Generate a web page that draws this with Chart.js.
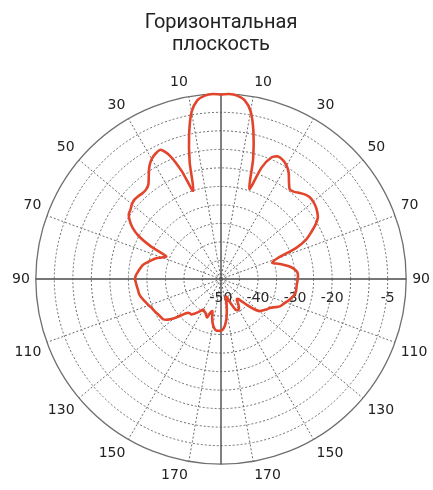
<!DOCTYPE html>
<html>
<head>
<meta charset="utf-8">
<script src="https://cdn.jsdelivr.net/npm/chart.js@4.4.1/dist/chart.umd.min.js"></script>
<style>
  html, body { margin: 0; padding: 0; background: #ffffff; }
  #wrap { width: 433px; height: 490px; position: relative; }
</style>
</head>
<body>
<div id="wrap"><canvas id="c"></canvas></div>
<script>
// Title lines
const titleLines = ['Горизонтальная', 'плоскость'];

// Angular step of the sampled pattern (degrees)
const stepDeg = 2.5;

// Right half: angles 0..180 clockwise from top, step 2.5°, level in dB
const rightHalfDb = [
  -0.2, 0, -0.3, -1.3, -4.0, -9.5, -16.5, -24.5, -18, -14.5,
  -13.5, -13.8, -14.6, -16, -18, -19.5, -19.3, -18.5, -17.8, -17.4,
  -17.5, -17.8, -18.3, -19, -20.5, -22.5, -24.5, -28, -34, -35.5,
  -34, -32.5, -31, -30, -29.3, -29.2, -29.3, -29.4, -29.5, -29.5,
  -29.5, -29.8, -30.3, -30.8, -31.5, -32, -32.5, -33.5, -34.5, -35,
  -35.5, -36, -36.5, -38, -40, -42, -43, -43, -42, -41,
  -40.5, -40.5, -41, -42.5, -44, -45, -45, -43, -41, -39,
  -37.5, -36.5, -36
];

// Left half: angles 0..180 counter-clockwise from top, step 2.5°, level in dB
const leftHalfDb = [
  -0.2, 0, -0.3, -1.3, -4.2, -10.2, -17.3, -25, -19, -14,
  -11.5, -11.8, -12.6, -14, -16, -17.8, -18.5, -18.6, -18.4, -18.3,
  -18.6, -19.2, -19.6, -20.8, -22.5, -25, -29, -34, -33, -31.5,
  -30.5, -29.5, -28.5, -28, -27.5, -27, -26.8, -27, -27.2, -27.4,
  -27.5, -27.8, -28.3, -28.8, -29.2, -29.7, -30, -30.3, -30.6, -30.8,
  -31, -32, -33.5, -35.5, -37, -37.5, -37.5, -38.2, -39, -39.8,
  -40.5, -40.2, -40, -39.5, -39, -40.5, -41, -39, -37.5, -36.5,
  -36, -36, -36
];

// Angle labels shown around the rim (degrees clockwise from top) and their texts
const labelAngles = [10, 30, 50, 70, 90, 110, 130, 150, 170, 190, 210, 230, 250, 270, 290, 310, 330, 350];
const labelTexts  = ['10','30','50','70','90','110','130','150','170','170','150','130','110','90','70','50','30','10'];

// Radial tick labels (dB) shown along the right horizontal axis
const radialTickValues = [-50, -40, -30, -20, -5];
const radialTickTexts  = ['-50', '-40', '-30', '-20', '-5'];

// Build the full 0..357.5 series clockwise from top
const nSteps = Math.round(360 / stepDeg);
const patternDb = [];
const angleLabels = [];
for (let i = 0; i < nSteps; i++) {
  const a = i * stepDeg;
  patternDb.push(i <= 72 ? rightHalfDb[i] : leftHalfDb[nSteps - i]);
  const k = labelAngles.indexOf(a);
  angleLabels.push(k >= 0 ? labelTexts[k] : '');
}

const radialTickPlugin = {
  id: 'radialTickPlugin',
  beforeDatasetsDraw(chart) {
    const s = chart.scales.r;
    const ctx = chart.ctx;
    ctx.save();
    ctx.font = '14px "DejaVu Sans", Verdana, sans-serif';
    ctx.fillStyle = '#2a2a2a';
    ctx.textAlign = 'center';
    ctx.textBaseline = 'middle';
    radialTickValues.forEach((v, i) => {
      const d = s.getDistanceFromCenterForValue(v);
      ctx.fillText(radialTickTexts[i], s.xCenter + d, s.yCenter + 19);
    });
    ctx.restore();
  }
};

new Chart(document.getElementById('c'), {
  type: 'radar',
  data: {
    labels: angleLabels,
    datasets: [{
      data: patternDb,
      borderColor: '#e2452c',
      borderWidth: 2.6,
      pointRadius: 0,
      pointHoverRadius: 0,
      fill: false,
      tension: 0.25
    }]
  },
  options: {
    responsive: true,
    maintainAspectRatio: false,
    animation: false,
    layout: { padding: { left: 9, right: 0, top: 9, bottom: 2 } },
    plugins: {
      legend: { display: false },
      tooltip: { enabled: false },
      title: {
        display: true,
        text: titleLines,
        color: '#222222',
        font: { family: 'Roboto, "Noto Sans", sans-serif', size: 20, weight: 'normal', lineHeight: 1.1 },
        padding: { top: 3, bottom: 15 }
      }
    },
    scales: {
      r: {
        min: -50,
        max: 0,
        startAngle: 0,
        ticks: { stepSize: 5, display: false },
        grid: {
          circular: true,
          color: (ctx) => ctx.tick && ctx.tick.value === 0 ? '#6f6f6f' : '#6a6a6a',
          lineWidth: (ctx) => ctx.tick && ctx.tick.value === 0 ? 1.3 : 1
        },
        border: {
          dash: (ctx) => ctx.tick && ctx.tick.value === 0 ? [] : [2, 2]
        },
        angleLines: {
          display: true,
          color: (ctx) => {
            const a = ctx.index * stepDeg;
            return a % 90 === 0 ? '#4a4a4a' : '#6a6a6a';
          },
          lineWidth: (ctx) => {
            const a = ctx.index * stepDeg;
            if (a % 90 === 0) return 1.4;
            if (a % 20 === 10) return 1;
            return 0;
          },
          borderDash: (ctx) => {
            const a = ctx.index * stepDeg;
            return a % 90 === 0 ? [] : [2, 2];
          }
        },
        pointLabels: {
          display: true,
          color: '#222222',
          padding: 6,
          font: { family: '"DejaVu Sans", Verdana, sans-serif', size: 14 }
        }
      }
    }
  },
  plugins: [radialTickPlugin]
});
</script>
</body>
</html>
